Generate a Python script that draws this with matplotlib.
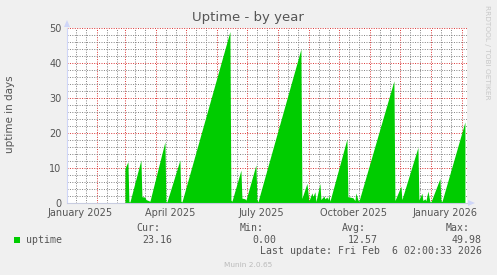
import datetime as dt
import matplotlib
matplotlib.use("Agg")
import matplotlib.pyplot as plt
import matplotlib.dates as mdates
from matplotlib.ticker import MultipleLocator
from matplotlib.patches import Polygon

# ---- data (vertices of the uptime sawtooth) ----
dates = [
    "2025-03-01", "2025-03-04", "2025-03-05", "2025-03-06", "2025-03-17", "2025-03-18",
    "2025-03-21", "2025-03-22", "2025-03-26", "2025-04-10", "2025-04-11", "2025-04-12",
    "2025-04-25", "2025-04-26", "2025-04-27", "2025-06-14", "2025-06-15", "2025-06-16",
    "2025-06-25", "2025-06-26", "2025-06-29", "2025-06-30", "2025-07-10", "2025-07-11",
    "2025-07-12", "2025-08-24", "2025-08-25", "2025-08-30", "2025-09-01", "2025-09-04",
    "2025-09-05", "2025-09-07", "2025-09-08", "2025-09-12", "2025-09-13", "2025-09-16",
    "2025-09-17", "2025-09-19", "2025-09-20", "2025-09-21", "2025-09-22", "2025-10-09",
    "2025-10-10", "2025-10-15", "2025-10-17", "2025-10-18", "2025-10-20", "2025-10-21",
    "2025-11-25", "2025-11-26", "2025-12-02", "2025-12-03", "2025-12-19", "2025-12-20",
    "2025-12-23", "2025-12-24", "2025-12-26", "2025-12-27", "2025-12-29", "2025-12-31",
    "2026-01-01", "2026-01-10", "2026-01-11", "2026-01-12", "2026-02-04",
]
uptime = [
    9.9, 11.8, 0.4, 0.3, 12.3, 1.8,
    1.7, 1.0, 0.5, 17.5, 0.4, 0.3,
    12.3, 0.5, 0.3, 49.0, 0.8, 0.5,
    9.4, 1.4, 1.2, 0.8, 10.9, 1.0,
    0.3, 44.0, 1.3, 5.6, 0.6, 2.9,
    1.8, 3.2, 0.4, 5.6, 1.0, 2.0,
    1.2, 1.7, 1.0, 2.3, 0.5, 18.3,
    1.8, 1.5, 0.7, 2.9, 0.9, 0.5,
    34.9, 0.7, 4.8, 1.0, 15.9, 0.9,
    2.8, 0.7, 1.2, 0.6, 3.4, 0.4,
    0.3, 7.0, 0.7, 0.4, 23.16,
]
series_name = "uptime"
stat_labels = ["Cur:", "Min:", "Avg:", "Max:"]
stat_values = ["23.16", "0.00", "12.57", "49.98"]
x_labels = ["January 2025", "April 2025", "July 2025", "October 2025", "January 2026"]
x_label_dates = ["2025-01-01", "2025-04-01", "2025-07-01", "2025-10-01", "2026-01-01"]
title = "Uptime - by year"
y_title = "uptime in days"
last_update = "Last update: Fri Feb  6 02:00:33 2026"

W, H = 497, 275
TXT = "#555555"
fig = plt.figure(figsize=(W / 100, H / 100), dpi=100, facecolor="#F0F0F0")
L, R, T, B = 67, 467, 28, 203
ax = fig.add_axes([L / W, 1 - B / H, (R - L) / W, (B - T) / H])
ax.set_facecolor("white")

xd = [dt.datetime.fromisoformat(d) for d in dates]
ax.fill_between(xd, uptime, 0, color="#00CC00", linewidth=0, zorder=5)

ax.set_xlim(dt.datetime(2025, 1, 2, 2, 0, 33), dt.datetime(2026, 2, 6, 2, 0, 33))
ax.set_ylim(0, 50)

ax.xaxis.set_major_locator(mdates.MonthLocator())
ax.xaxis.set_minor_locator(mdates.DayLocator(bymonthday=[11, 21]))
ax.yaxis.set_major_locator(MultipleLocator(10))
ax.yaxis.set_minor_locator(MultipleLocator(2))
ax.set_xticklabels([])
ax.tick_params(axis="x", which="both", length=0)
ax.tick_params(axis="y", which="both", length=0, labelsize=7, labelcolor=TXT, pad=4)

ax.set_axisbelow(True)
ax.grid(which="minor", color=(0.5, 0.5, 0.5, 0.16), linestyle=(0, (1, 1.5)), linewidth=0.7)
ax.grid(which="major", color=(0.85, 0.2, 0.2, 0.28), linestyle=(0, (1, 1.5)), linewidth=0.7)

for s in ["top", "right"]:
    ax.spines[s].set_visible(False)
ax.spines["left"].set_color("#CFD6F8")
ax.spines["bottom"].set_color("#C8CCE0")
ax.spines["left"].set_linewidth(0.8)
ax.spines["bottom"].set_linewidth(0.8)
ax.spines["left"].set_zorder(6)
ax.spines["bottom"].set_zorder(6)

for lab, d in zip(x_labels, x_label_dates):
    x = dt.datetime.fromisoformat(d) + dt.timedelta(days=14.5)
    ax.text(x, -0.031, lab, transform=ax.get_xaxis_transform(), ha="center", va="top",
            fontsize=7, color=TXT)

# arrows
def px(x, y):
    return (x / W, 1 - y / H)
fig.patches.append(Polygon([px(64, 27), px(70, 27), px(67, 20)], closed=True,
                           transform=fig.transFigure, facecolor="#CFD6F8", edgecolor="none"))
fig.patches.append(Polygon([px(468, 200), px(468, 206), px(475, 203)], closed=True,
                           transform=fig.transFigure, facecolor="#CFD6F8", edgecolor="none"))

fig.text(248 / W, 1 - 18 / H, title, ha="center", va="center", fontsize=9.5, color=TXT)
fig.text(10 / W, 1 - 114 / H, y_title, ha="center", va="center", rotation=90, fontsize=7.5, color=TXT)
fig.text(487 / W, 1 - 5 / H, "RRDTOOL / TOBI OETIKER", ha="center", va="top", rotation=270,
         fontsize=5.3, color="#C8C8C8")

mono = "DejaVu Sans Mono"
fs = 7.1
stat_right = [172, 276, 378, 482]
for lab, val, xr in zip(stat_labels, stat_values, stat_right):
    fig.text((xr - 12) / W, 1 - 228 / H, lab, ha="right", va="center", family=mono, fontsize=fs, color=TXT)
    fig.text(xr / W, 1 - 240 / H, val, ha="right", va="center", family=mono, fontsize=fs, color=TXT)
fig.patches.append(Polygon([px(14, 237), px(20, 237), px(20, 243), px(14, 243)], closed=True,
                           transform=fig.transFigure, facecolor="#00CC00", edgecolor="none"))
fig.text(26 / W, 1 - 240 / H, series_name, ha="left", va="center", family=mono, fontsize=fs, color=TXT)
fig.text(482 / W, 1 - 251 / H, last_update, ha="right", va="center", family=mono, fontsize=fs, color=TXT)
fig.text(248.5 / W, 1 - 265 / H, "Munin 2.0.65", ha="center", va="center", fontsize=5.3, color="#BBBBBB")

fig.savefig("out.png", dpi=100, facecolor=fig.get_facecolor())
